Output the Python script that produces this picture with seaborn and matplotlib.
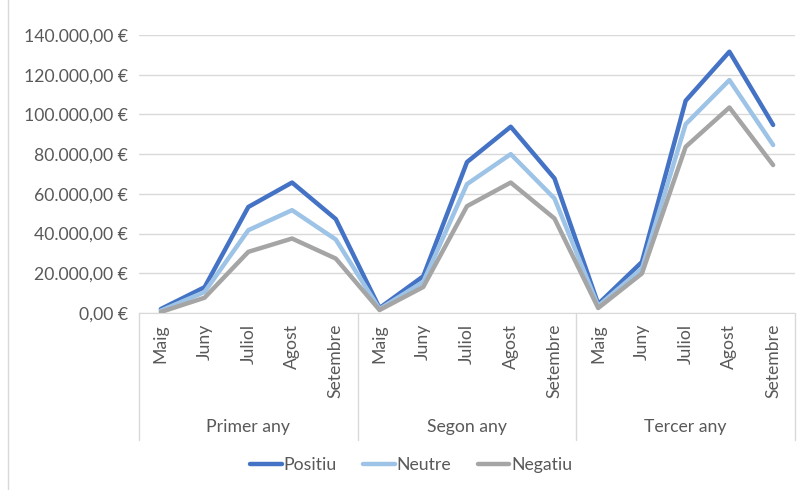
import matplotlib
matplotlib.use("Agg")
import matplotlib.pyplot as plt
import matplotlib.transforms as mtransforms
from matplotlib.ticker import FuncFormatter, MultipleLocator
import seaborn as sns
import pandas as pd

# data
anys = ["Primer any", "Segon any", "Tercer any"]
mesos = ["Maig", "Juny", "Juliol", "Agost", "Setembre"]
positiu = [2000, 13000, 53400, 65700, 47300,
           2500, 18500, 76000, 93800, 67800,
           4500, 25700, 106900, 131600, 94700]
neutre = [1200, 10600, 41700, 51800, 37000,
          2000, 15700, 64900, 80000, 57700,
          3500, 22400, 95100, 117300, 84600]
negatiu = [500, 7700, 30800, 37500, 27400,
           1500, 13100, 53800, 65700, 47600,
           2500, 19900, 83700, 103500, 74500]
colors = {"Positiu": "#4472C4", "Neutre": "#9DC3E6", "Negatiu": "#A5A5A5"}

n = len(positiu)
rows = []
for nom, vals in [("Positiu", positiu), ("Neutre", neutre), ("Negatiu", negatiu)]:
    for i, v in enumerate(vals):
        rows.append({"idx": i, "valor": v, "serie": nom})
df = pd.DataFrame(rows)

sns.set_style("white")
plt.rcParams["font.family"] = ["Lato", "DejaVu Sans"]
txt = "#595959"
grid_c = "#D9D9D9"
fs = 12.7

fig = plt.figure(figsize=(8.06, 4.9), dpi=100)
ax = fig.add_axes([139 / 806, 1 - 313 / 490, (795 - 139) / 806, (313 - 35) / 490])

sns.lineplot(data=df, x="idx", y="valor", hue="serie", palette=colors,
             linewidth=3.2, ax=ax, legend=False)

ax.set_xlim(-0.5, n - 0.5)
ax.set_ylim(0, 140000)
ax.yaxis.set_major_locator(MultipleLocator(20000))
ax.yaxis.set_major_formatter(FuncFormatter(
    lambda v, p: f"{v:,.2f}".replace(",", "X").replace(".", ",").replace("X", ".") + " €"))
ax.grid(axis="y", color=grid_c, linewidth=1)
ax.set_axisbelow(True)
for s in ["top", "right", "left"]:
    ax.spines[s].set_visible(False)
ax.spines["bottom"].set_color(grid_c)
ax.tick_params(axis="y", length=0, labelsize=fs, labelcolor=txt, pad=8)

ax.set_xticks(range(n))
ax.set_xticklabels(mesos * len(anys), rotation=90, va="top", ha="center")
ax.tick_params(axis="x", length=0, labelsize=fs, labelcolor=txt, pad=8)
ax.set_xlabel("")
ax.set_ylabel("")

# second level of the category axis
trans = mtransforms.blended_transform_factory(ax.transData, ax.transAxes)
h = 313 - 35
for k in range(len(anys) + 1):
    xs = k * len(mesos) - 0.5
    ax.plot([xs, xs], [0, -(440 - 313) / h], transform=trans, color=grid_c,
            linewidth=1, clip_on=False)
for k, a in enumerate(anys):
    ax.text(k * len(mesos) + 2, -(427 - 313) / h, a, transform=trans,
            ha="center", va="center", fontsize=fs, color=txt)

# legend
handles = [plt.Line2D([], [], color=colors[s], linewidth=3.2) for s in colors]
fig.legend(handles, list(colors), loc="center", bbox_to_anchor=(0.51, 1 - 465 / 490),
           ncol=3, frameon=False, fontsize=fs, labelcolor=txt, handlelength=1.8,
           handletextpad=0.1, columnspacing=1.5)

# chart border on the left
fig.add_artist(plt.Line2D([8 / 806, 8 / 806], [0, 1], color=grid_c, linewidth=1))

fig.savefig("out.png", dpi=100)
